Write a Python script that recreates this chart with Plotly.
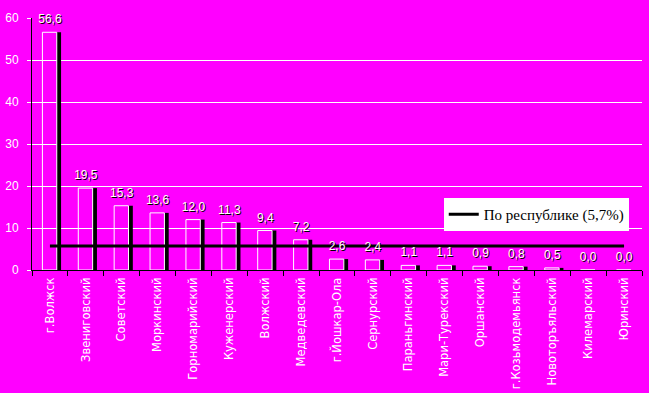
import plotly.graph_objects as go

districts = ["г.Волжск", "Звениговский", "Советский", "Моркинский", "Горномарийский",
             "Куженерский", "Волжский", "Медведевский", "г.Йошкар-Ола", "Сернурский",
             "Параньгинский", "Мари-Турекский", "Оршанский", "г.Козьмодемьянск",
             "Новоторъяльский", "Килемарский", "Юринский"]
values = [56.6, 19.5, 15.3, 13.6, 12.0, 11.3, 9.4, 7.2, 2.6, 2.4, 1.1, 1.1, 0.9, 0.8, 0.5, 0.0, 0.0]
republic_avg = 5.7
legend_name = "По республике (5,7%)"

MAG = "#FF00FF"

fig = go.Figure()
# black side face (3D depth)
fig.add_trace(go.Bar(x=districts, y=values, width=0.12, offset=0.19,
                     marker=dict(color="black", line=dict(width=0)),
                     showlegend=False, hoverinfo="skip"))
# hollow front face
fig.add_trace(go.Bar(x=districts, y=values, width=0.40, offset=-0.21,
                     marker=dict(color="rgba(0,0,0,0)", line=dict(color="white", width=1)),
                     showlegend=False))
# republic average line
fig.add_trace(go.Scatter(x=districts, y=[republic_avg] * len(districts), mode="lines",
                         line=dict(color="black", width=3), name=legend_name))
# data labels
fig.add_trace(go.Scatter(x=districts, y=values, mode="markers+text",
                         text=[f"{v:.1f}".replace(".", ",") for v in values],
                         textposition="top center",
                         marker=dict(size=8, color="rgba(0,0,0,0)"),
                         textfont=dict(color="white", size=12, family="Liberation Sans",
                                       shadow="1px 1px 0px #000"),
                         showlegend=False, hoverinfo="skip", cliponaxis=False))

fig.update_layout(
    width=649, height=393,
    paper_bgcolor=MAG, plot_bgcolor=MAG,
    margin=dict(l=32, r=7, t=18, b=123),
    barmode="overlay",
    separators=",.",
    font=dict(family="DejaVu Sans", size=11, color="white"),
    legend=dict(x=0.675, y=0.286, xanchor="left", yanchor="top",
                bgcolor="white", borderwidth=0,
                font=dict(family="Liberation Serif", size=15, color="black"),
                itemwidth=30),
    showlegend=True,
)
fig.update_xaxes(type="category", tickangle=-90, showline=True, linecolor="black", linewidth=1,
                 ticks="outside", tickson="boundaries", ticklen=5, tickcolor="black",
                 showgrid=False, tickfont=dict(color="white", size=11.5, family="DejaVu Sans"),
                 ticklabelstandoff=2, automargin=False,
                 range=[-0.5, len(districts) - 0.5])
fig.update_yaxes(range=[0, 60], dtick=10, showgrid=True, gridcolor="white", gridwidth=1,
                 showline=True, linecolor="black", linewidth=1, zeroline=False,
                 ticks="outside", ticklen=4, tickcolor="white",
                 tickfont=dict(color="white", size=12, family="Liberation Sans"),
                 ticklabelstandoff=6, automargin=False)

fig.write_html("out.html", config={"displayModeBar": False},
               post_script="document.body.style.margin='0';document.body.style.background='#FF00FF';")
